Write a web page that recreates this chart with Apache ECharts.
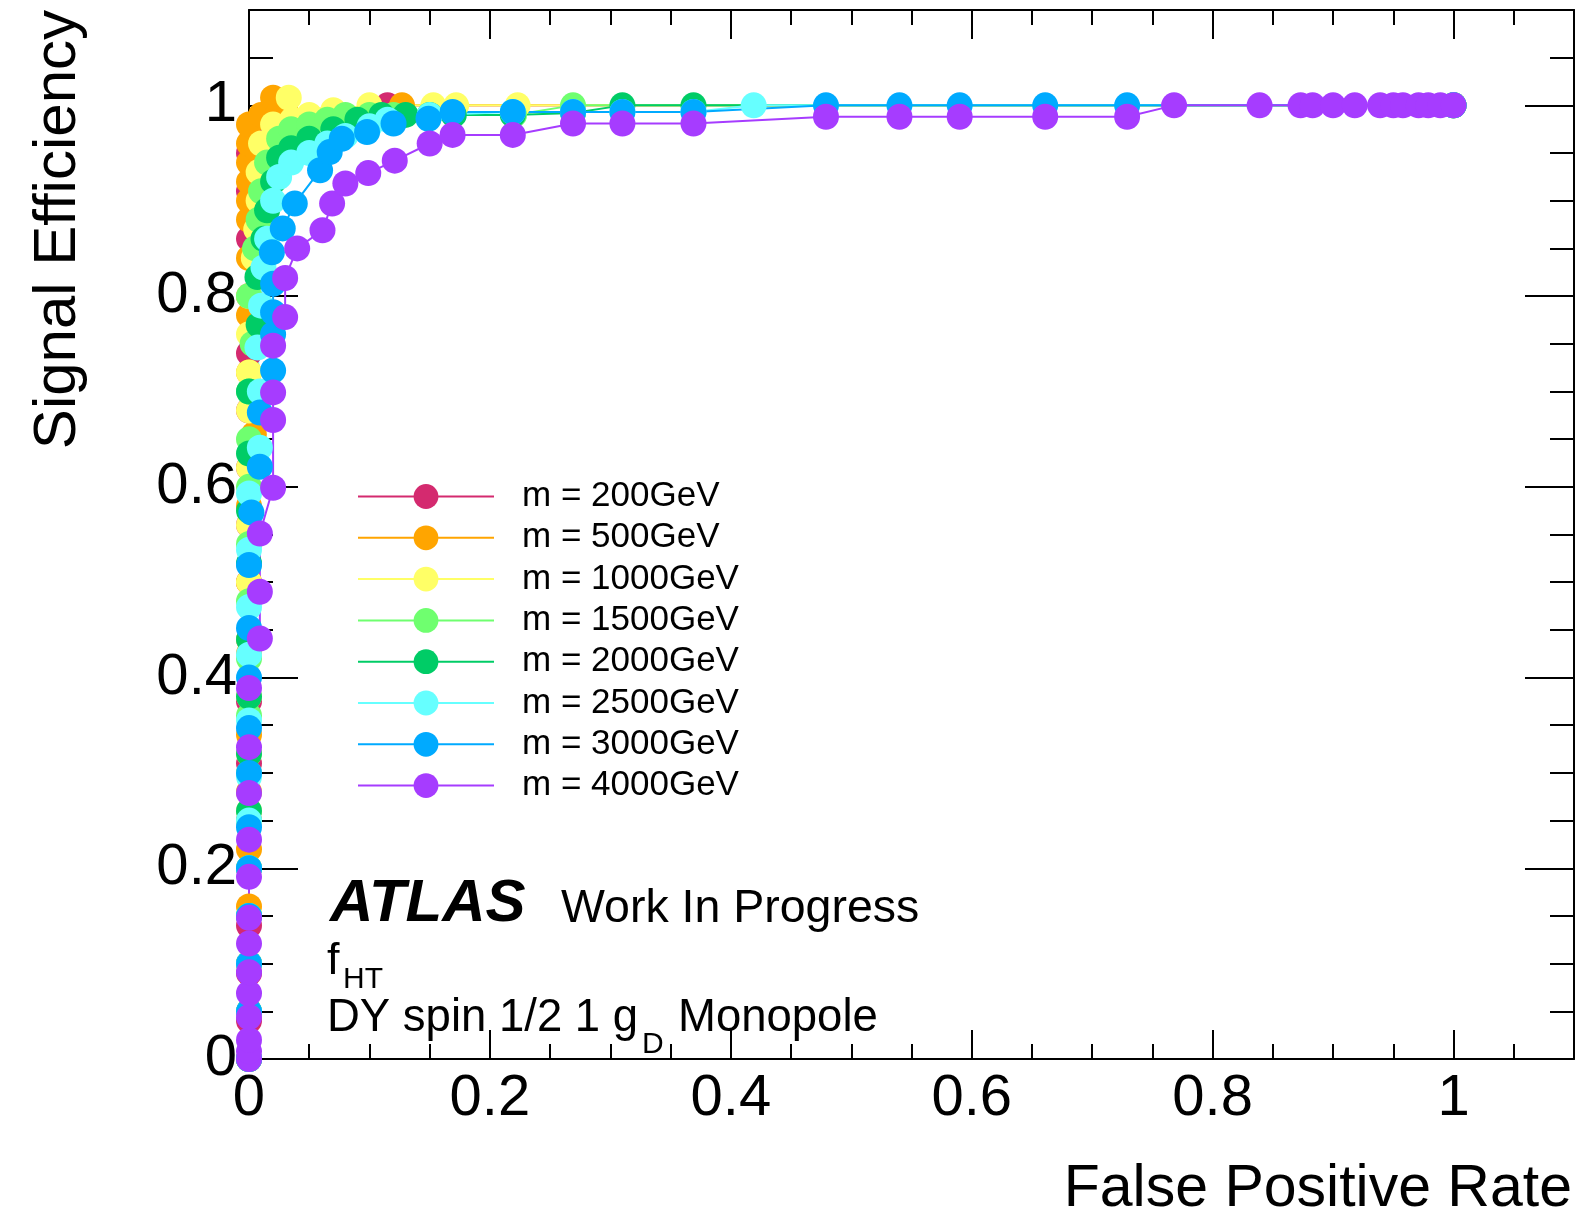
<!DOCTYPE html>
<html>
<head>
<meta charset="utf-8">
<title>ROC f_HT</title>
<script src="https://cdn.jsdelivr.net/npm/echarts@6.0.0/dist/echarts.min.js"></script>
<style>
html, body { margin: 0; padding: 0; background: #fff; }
#main { width: 1577px; height: 1218px; }
</style>
</head>
<body>
<div id="main"></div>
<script>
// masses of the signal samples
var masses = ['200', '500', '1000', '1500', '2000', '2500', '3000', '4000'];
var colors = ['#d42a6f', '#ffa500', '#ffff66', '#6fff6f', '#00cc66', '#66ffff', '#00aaff', '#a63cff'];

// [false positive rate, signal efficiency]
var roc200 = [[0,0],[0,0.04],[0,0.09],[0,0.14],[0,0.2],[0,0.25],[0,0.31],[0,0.375],[0,0.44],[0,0.5],[0,0.56],[0,0.62],[0,0.68],[0,0.74],[0,0.8],[0,0.86],[0,0.91],[0,0.95],[0.002,0.98],[0.115,1.0],[1,1]];
var roc500 = [[0,0],[0,0.05],[0,0.1],[0,0.16],[0,0.22],[0,0.28],[0,0.34],[0,0.425],[0,0.5],[0,0.58],[0.004,0.655],[0,0.72],[0,0.78],[0,0.84],[0,0.88],[0,0.9],[0,0.92],[0,0.94],[0,0.96],[0,0.98],[0.01,0.99],[0.02,1.008],[0.024,0.99],[0.027,1.0],[0.03,0.995],[0.127,1.0],[1,1]];
var roc1000 = [[0,0],[0,0.05],[0,0.1],[0,0.15],[0,0.2],[0,0.26],[0,0.32],[0,0.38],[0,0.44],[0,0.5],[0,0.56],[0,0.62],[0,0.68],[0,0.72],[0,0.76],[0,0.8],[0.004,0.84],[0.006,0.87],[0.008,0.9],[0.008,0.93],[0.01,0.96],[0.02,0.98],[0.033,1.008],[0.036,0.985],[0.05,0.99],[0.07,0.995],[0.1,1.0],[0.153,1.0],[0.172,1.0],[0.223,1.0],[1,1]];
var roc1500 = [[0,0],[0,0.05],[0,0.1],[0,0.15],[0,0.2],[0,0.25],[0,0.3],[0,0.36],[0,0.42],[0,0.48],[0,0.54],[0,0.6],[0,0.65],[0,0.7],[0.003,0.75],[0,0.8],[0.005,0.85],[0.008,0.88],[0.01,0.91],[0.015,0.94],[0.025,0.965],[0.035,0.975],[0.05,0.98],[0.065,0.985],[0.08,0.99],[0.1,0.99],[0.12,0.99],[0.22,0.99],[0.269,1.0],[1,1]];
var roc2000 = [[0,0],[0,0.05],[0,0.1],[0,0.15],[0,0.2],[0,0.26],[0,0.32],[0,0.38],[0,0.44],[0,0.52],[0,0.575],[0,0.635],[0,0.7],[0.008,0.77],[0.007,0.82],[0.012,0.86],[0.015,0.89],[0.02,0.92],[0.025,0.945],[0.035,0.955],[0.05,0.965],[0.07,0.975],[0.09,0.985],[0.11,0.99],[0.13,0.99],[0.15,0.99],[0.17,0.99],[0.219,0.99],[0.269,0.992],[0.31,1.0],[0.369,1.0],[1,1]];
var roc2500 = [[0,0],[0,0.05],[0,0.1],[0,0.15],[0,0.2],[0,0.25],[0,0.296],[0,0.355],[0,0.424],[0,0.474],[0,0.534],[0,0.593],[0.009,0.641],[0.009,0.7],[0.007,0.746],[0.01,0.79],[0.012,0.83],[0.015,0.86],[0.02,0.9],[0.025,0.925],[0.035,0.94],[0.05,0.95],[0.065,0.96],[0.08,0.968],[0.1,0.978],[0.115,0.985],[0.15,0.99],[0.219,0.993],[0.269,0.993],[0.31,0.993],[0.369,0.993],[0.419,1.0],[1,1]];
var roc3000 = [[0,0],[0,0.05],[0,0.1],[0,0.15],[0,0.2],[0,0.243],[0,0.3],[0,0.347],[0,0.4],[0,0.452],[0,0.518],[0.002,0.573],[0.009,0.621],[0.009,0.678],[0.02,0.722],[0.02,0.76],[0.02,0.783],[0.02,0.813],[0.019,0.846],[0.028,0.871],[0.038,0.897],[0.059,0.932],[0.067,0.951],[0.077,0.965],[0.098,0.972],[0.12,0.981],[0.149,0.986],[0.169,0.993],[0.219,0.993],[0.269,0.993],[0.31,0.993],[0.369,0.993],[0.479,1.0],[0.54,1.0],[0.59,1.0],[0.661,1.0],[0.729,1.0],[1,1]];
var roc4000 = [[0,0],[0,0.008],[0,0.02],[0,0.044],[0,0.069],[0,0.091],[0,0.121],[0,0.148],[0,0.191],[0,0.23],[0,0.279],[0,0.327],[0,0.389],[0.009,0.441],[0.009,0.49],[0.009,0.551],[0.02,0.599],[0.02,0.67],[0.02,0.699],[0.02,0.748],[0.03,0.778],[0.03,0.819],[0.04,0.85],[0.061,0.869],[0.069,0.897],[0.08,0.918],[0.099,0.929],[0.121,0.942],[0.15,0.96],[0.169,0.969],[0.219,0.969],[0.269,0.981],[0.31,0.981],[0.369,0.981],[0.479,0.988],[0.54,0.988],[0.59,0.988],[0.661,0.988],[0.729,0.988],[0.768,1],[0.839,1],[0.873,1],[0.883,1],[0.9,1],[0.918,1],[0.939,1],[0.95,1],[0.958,1],[0.971,1],[0.979,1],[0.989,1],[1,1]];

var curves = [roc200, roc500, roc1000, roc1500, roc2000, roc2500, roc3000, roc4000];

var FONT = '"Liberation Sans", Helvetica, Arial, sans-serif';

// ROOT style frame: big ticks every 0.2, small every 0.05, on all four sides
function makeAxis(pos, interval, tickLen, showLine, showLabel, labelMargin) {
    return {
        type: 'value',
        position: pos,
        min: 0,
        max: 1.1,
        interval: interval,
        axisLine: {show: showLine, onZero: false, lineStyle: {color: '#000', width: 2}},
        axisTick: {show: true, inside: true, length: tickLen, lineStyle: {color: '#000', width: 2}},
        axisLabel: {
            show: showLabel,
            showMaxLabel: false,
            margin: labelMargin || 8,
            fontSize: 58,
            fontFamily: FONT,
            color: '#000'
        },
        splitLine: {show: false},
        minorTick: {show: false}
    };
}

var series = [];
for (var i = 0; i < masses.length; i++) {
    series.push({
        name: 'm = ' + masses[i] + 'GeV',
        type: 'line',
        data: curves[i],
        xAxisIndex: 0,
        yAxisIndex: 0,
        symbol: 'circle',
        symbolSize: 26,
        showSymbol: true,
        clip: false,
        lineStyle: {width: 2, color: colors[i]},
        itemStyle: {color: colors[i]},
        emphasis: {disabled: true},
        animation: false
    });
}

var myChart = echarts.init(document.getElementById('main'), null, {renderer: 'canvas'});

var option = {
    backgroundColor: '#fff',
    animation: false,
    grid: {left: 249, top: 10, width: 1325, height: 1049, containLabel: false, outerBoundsMode: 'none'},
    xAxis: [
        makeAxis('bottom', 0.2, 29, true, true, 11),
        makeAxis('bottom', 0.05, 15, false, false),
        makeAxis('top', 0.2, 29, true, false),
        makeAxis('top', 0.05, 15, false, false)
    ],
    yAxis: [
        makeAxis('left', 0.2, 49, true, true, 12),
        makeAxis('left', 0.05, 24, false, false),
        makeAxis('right', 0.2, 49, true, false),
        makeAxis('right', 0.05, 24, false, false)
    ],
    legend: {
        orient: 'vertical',
        left: 357,
        top: 479,
        padding: 0,
        itemWidth: 136,
        itemHeight: 31,
        itemGap: 6.3,
        selectedMode: false,
        textStyle: {fontSize: 35, fontFamily: FONT, color: '#000', lineHeight: 31, padding: [0, 0, 0, 23]},
        data: series.map(function (s) { return s.name; })
    },
    graphic: [
        {type: 'text', x: 58, y: 10, rotation: Math.PI / 2,
            style: {text: 'Signal Efficiency', font: '60px ' + FONT, fill: '#000', align: 'right', verticalAlign: 'middle'}},
        {type: 'text', x: 1572, y: 1190,
            style: {text: 'False Positive Rate', font: '59px ' + FONT, fill: '#000', align: 'right', verticalAlign: 'middle'}},
        {type: 'text', x: 330, y: 904,
            style: {text: 'ATLAS', font: 'italic bold 60px ' + FONT, fill: '#000', align: 'left', verticalAlign: 'middle'}},
        {type: 'text', x: 561, y: 909,
            style: {text: 'Work In Progress', font: '46.5px ' + FONT, fill: '#000', align: 'left', verticalAlign: 'middle'}},
        {type: 'text', x: 327, y: 962,
            style: {text: 'f', font: '45px ' + FONT, fill: '#000', align: 'left', verticalAlign: 'middle'}},
        {type: 'text', x: 343, y: 980,
            style: {text: 'HT', font: '30px ' + FONT, fill: '#000', align: 'left', verticalAlign: 'middle'}},
        {type: 'text', x: 327, y: 1018,
            style: {text: 'DY spin 1/2 1 g', font: '45.5px ' + FONT, fill: '#000', align: 'left', verticalAlign: 'middle'}},
        {type: 'text', x: 642, y: 1045,
            style: {text: 'D', font: '30px ' + FONT, fill: '#000', align: 'left', verticalAlign: 'middle'}},
        {type: 'text', x: 678, y: 1018,
            style: {text: 'Monopole', font: '45.5px ' + FONT, fill: '#000', align: 'left', verticalAlign: 'middle'}}
    ],
    series: series
};

myChart.setOption(option);
</script>
</body>
</html>
